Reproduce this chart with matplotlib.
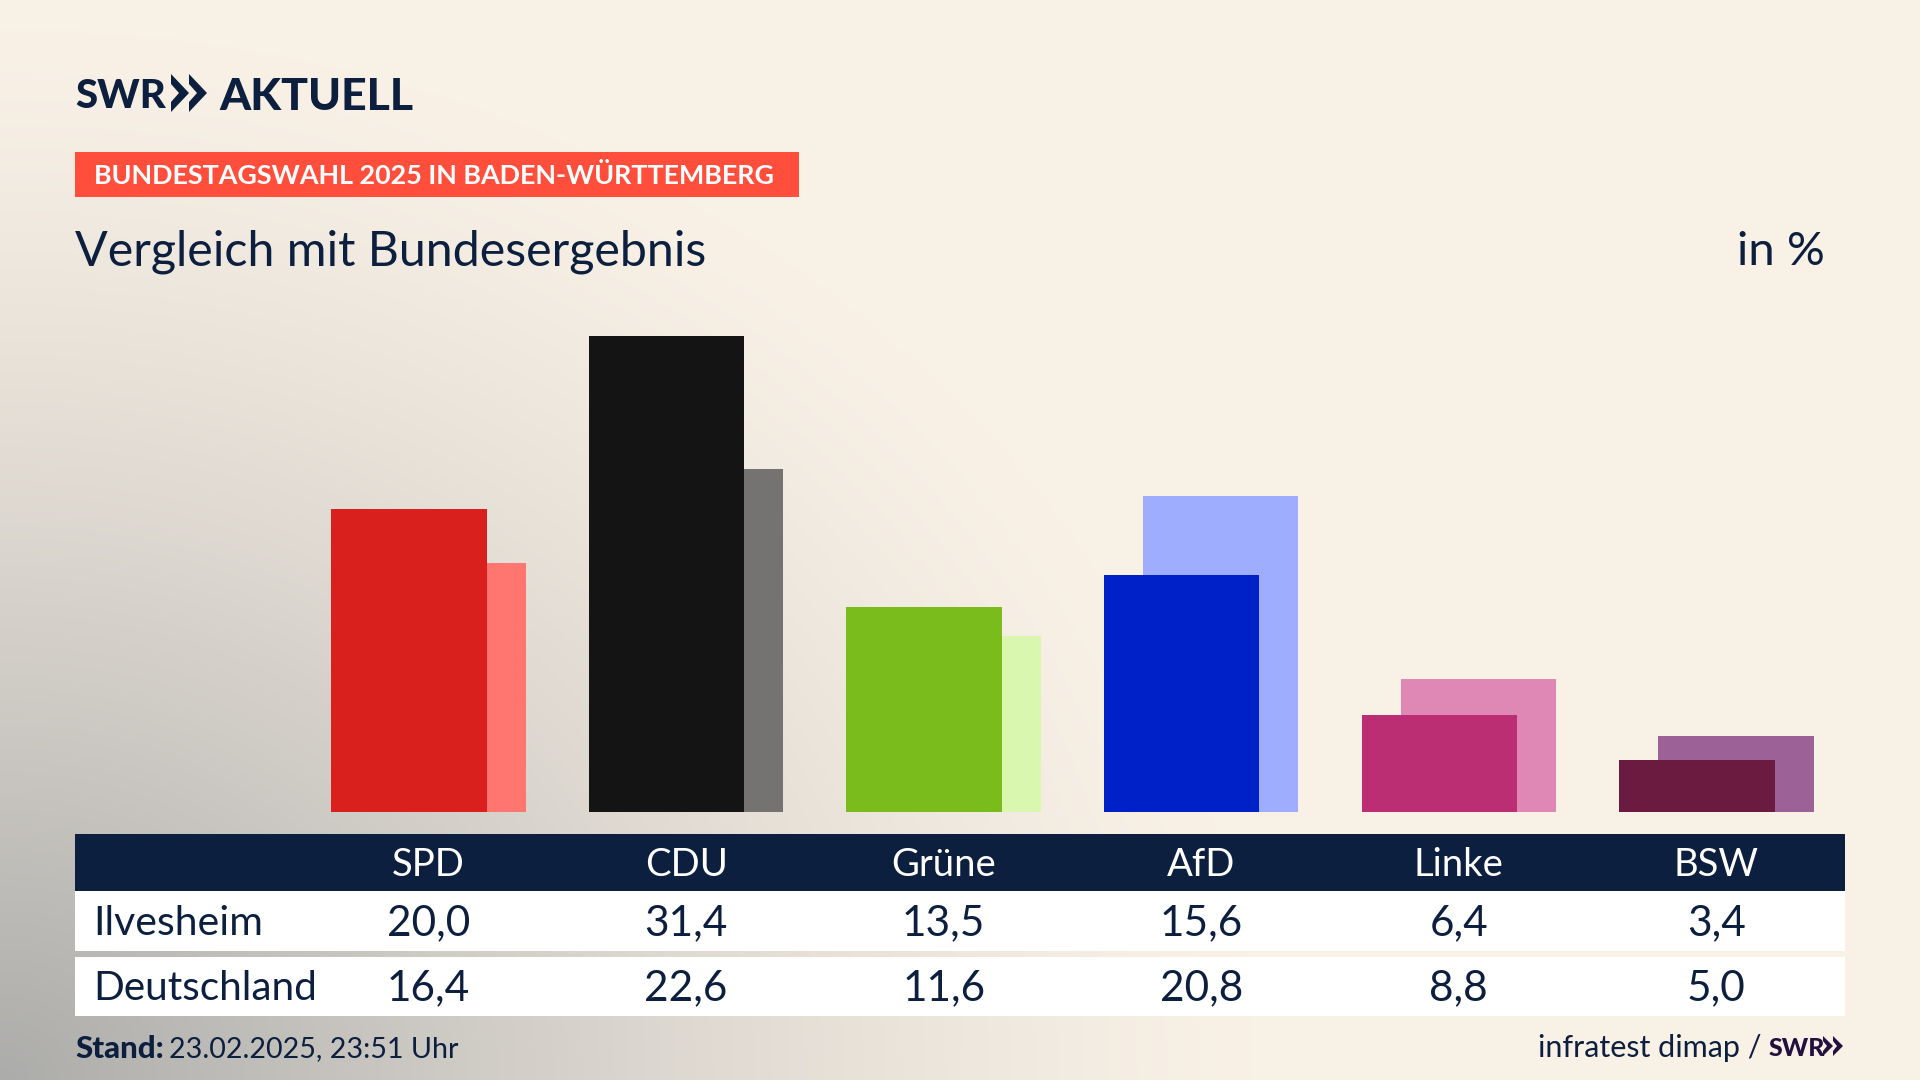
import numpy as np
import matplotlib
matplotlib.use('Agg')
import matplotlib.pyplot as plt
from matplotlib.patches import Rectangle, Polygon

parties = ['SPD', 'CDU', 'Grüne', 'AfD', 'Linke', 'BSW']
ilvesheim = [20.0, 31.4, 13.5, 15.6, 6.4, 3.4]
deutschland = [16.4, 22.6, 11.6, 20.8, 8.8, 5.0]
front_colors = ['#d9201d', '#141414', '#79bc1b', '#0020c8', '#bc2e73', '#6b1a40']
back_colors = ['#ff7570', '#747371', '#d9f7ae', '#9fadff', '#df87b5', '#9c6298']
row_labels = ['Ilvesheim', 'Deutschland']

W, H = 1920, 1080
NAVY = '#0c1f3e'
plt.rcParams['font.family'] = ['Lato', 'DejaVu Sans']

def fmt(v):
    return f'{v:.1f}'.replace('.', ',')

fig = plt.figure(figsize=(19.2, 10.8), dpi=100)

# background: warm cream, going grey towards the bottom left corner
bg = fig.add_axes([0, 0, 1, 1], zorder=0)
yy, xx = np.mgrid[0:H:270j, 0:W:480j]
d = np.sqrt((xx / 1250) ** 2 + ((H - yy) / 1050) ** 2)
t = np.clip(1 - d, 0, 1) ** 1.3
cream = np.array([249, 241, 230]) / 255
grey = np.array([172, 172, 170]) / 255
img = cream[None, None, :] + (grey - cream)[None, None, :] * t[:, :, None]
bg.imshow(img, extent=(0, W, H, 0), aspect='auto', interpolation='bilinear')
bg.axis('off')

# bars, data units, axes spans the width of the figure and ends at the baseline
base_px = 812
top_px = 300
px_per_unit = 15.17
step_px = 257.55
first_px = 428.6
bar_w = 155.5 / step_px
off = 39 / step_px / 2

ax = fig.add_axes([0, 1 - base_px / H, 1, (base_px - top_px) / H], zorder=1)
ax.patch.set_alpha(0)
x = np.arange(len(parties))
ax.bar(x + off, deutschland, width=bar_w, color=back_colors, zorder=1)
ax.bar(x - off, ilvesheim, width=bar_w, color=front_colors, zorder=2)
ax.set_xlim(-first_px / step_px, (W - first_px) / step_px)
ax.set_ylim(0, (base_px - top_px) / px_per_unit)
ax.axis('off')

# everything else in pixel coordinates
ov = fig.add_axes([0, 0, 1, 1], zorder=2)
ov.set_xlim(0, W)
ov.set_ylim(H, 0)
ov.axis('off')
ov.patch.set_alpha(0)

# logo
ov.text(75, 93, 'SWR', fontsize=29, fontweight=900, color=NAVY, ha='left', va='center_baseline')
for x0 in (171, 189):
    ov.add_patch(Polygon([(x0, 74), (x0 + 18, 93), (x0, 112), (x0, 102), (x0 + 8, 93), (x0, 84)], color=NAVY, lw=0))
ov.text(219, 93, 'AKTUELL', fontsize=32, fontweight=900, color=NAVY, ha='left', va='center_baseline')

# banner
ov.add_patch(Rectangle((75, 152), 724, 45, color='#ff4f3c', lw=0))
ov.text(94, 174, 'BUNDESTAGSWAHL 2025 IN BADEN-WÜRTTEMBERG', fontsize=19.4, fontweight='bold',
        color='white', va='center_baseline')

ov.text(75, 248, 'Vergleich mit Bundesergebnis', fontsize=34.8, color=NAVY, va='center_baseline')
ov.text(1825, 248, 'in %', fontsize=34, color=NAVY, ha='right', va='center_baseline')

# table
ov.add_patch(Rectangle((75, 834), 1770, 57, color=NAVY, lw=0))
ov.add_patch(Rectangle((75, 891), 1770, 60, color='white', lw=0))
ov.add_patch(Rectangle((75, 957), 1770, 59, color='white', lw=0))
for i, p in enumerate(parties):
    cx = first_px + i * step_px
    ov.text(cx, 862, p, fontsize=27.5, color='white', ha='center', va='center_baseline')
    ov.text(cx, 920, fmt(ilvesheim[i]), fontsize=30.5, color=NAVY, ha='center', va='center_baseline')
    ov.text(cx, 985, fmt(deutschland[i]), fontsize=30.5, color=NAVY, ha='center', va='center_baseline')
ov.text(93, 920, row_labels[0], fontsize=29.5, color=NAVY, va='center_baseline')
ov.text(93, 985, row_labels[1], fontsize=29.2, color=NAVY, va='center_baseline')

# footer
ov.text(75, 1047, 'Stand:', fontsize=22.5, fontweight=900, color=NAVY, va='center_baseline')
ov.text(169, 1047, '23.02.2025, 23:51 Uhr', fontsize=20.6, color=NAVY, va='center_baseline')
ov.text(1761, 1046, 'infratest dimap /', fontsize=22, color=NAVY, ha='right', va='center_baseline')
ov.text(1769, 1046, 'SWR', fontsize=18, fontweight=900, color='#24103f', va='center_baseline')
for x0 in (1823, 1833):
    ov.add_patch(Polygon([(x0, 1036), (x0 + 10, 1046), (x0, 1056), (x0, 1051), (x0 + 4, 1046), (x0, 1041)], color='#24103f', lw=0))

fig.savefig('out.png', dpi=100)
